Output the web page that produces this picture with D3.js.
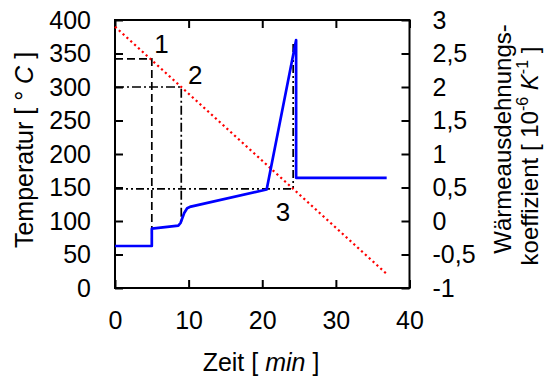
<!DOCTYPE html>
<html>
<head>
<meta charset="utf-8">
<script src="https://cdn.jsdelivr.net/npm/d3@7"></script>
<style>
  html, body { margin: 0; padding: 0; background: #fff; }
  svg { display: block; font-family: "Liberation Sans", Arial, sans-serif; }
</style>
</head>
<body>
<div id="chart"></div>
<script>
// axis ticks
const timeTicks = [0, 10, 20, 30, 40];
const tempTicks = [0, 50, 100, 150, 200, 250, 300, 350, 400];
const coefTicks = [-1, -0.5, 0, 0.5, 1, 1.5, 2, 2.5, 3];

// red dotted cooling line (temperature)
const coolTime = [0, 37];
const coolTemp = [390, 20];

// blue line: expansion coefficient
const coefTime = [0, 5, 5, 8.6, 8.9, 9.1, 9.4, 9.8, 10.3, 20.6, 24.6, 24.6, 36.9];
const coefValue = [-0.373, -0.373, -0.115, -0.07, -0.03, 0.03, 0.12, 0.19, 0.215, 0.47, 2.70, 0.645, 0.645];

// black guide lines (time / temperature)
const guide1Time = [0, 5, 5];
const guide1Temp = [342, 342, 63];
const guide2Time = [0, 9, 9];
const guide2Temp = [300, 300, 95];
const guide3Time = [0, 24.2, 24.2];
const guide3Temp = [148, 148, 366];

const markLabels = ['1', '2', '3'];
const markTime = [6.3, 10.9, 22.8];
const markTemp = [365, 318, 114];

const width = 555, height = 376;
const margin = { top: 20, right: 145.5, bottom: 88, left: 115 };

const svg = d3.select('#chart').append('svg')
  .attr('width', width)
  .attr('height', height);

let x = d3.scaleLinear().domain([0, 40]).range([margin.left, width - margin.right]);
let yT = d3.scaleLinear().domain([0, 400]).range([height - margin.bottom, margin.top]);
let yC = d3.scaleLinear().domain([-1, 3]).range([height - margin.bottom, margin.top]);

const fontSize = 25;
const comma = d => String(d).replace('.', ',');

function styleAxis(g) {
  g.select('.domain').remove();
  g.selectAll('.tick line').attr('stroke', '#000').attr('stroke-width', 2);
  g.selectAll('.tick text').attr('fill', '#000').attr('font-size', fontSize)
    .attr('font-family', '"Liberation Sans", Arial, sans-serif');
}

svg.append('g')
  .attr('transform', `translate(0,${yT(0)})`)
  .call(d3.axisBottom(x).tickValues(timeTicks).tickSizeInner(-8).tickSizeOuter(0).tickPadding(23))
  .call(styleAxis);

svg.append('g')
  .attr('transform', `translate(0,${yT(400)})`)
  .call(d3.axisTop(x).tickValues(timeTicks).tickSizeInner(-8).tickSizeOuter(0).tickFormat(''))
  .call(styleAxis);

svg.append('g')
  .attr('transform', `translate(${x(0)},0)`)
  .call(d3.axisLeft(yT).tickValues(tempTicks).tickSizeInner(-8).tickSizeOuter(0).tickPadding(24))
  .call(styleAxis);

svg.append('g')
  .attr('transform', `translate(${x(40)},0)`)
  .call(d3.axisRight(yC).tickValues(coefTicks).tickSizeInner(-8).tickSizeOuter(0).tickPadding(23).tickFormat(comma))
  .call(styleAxis);

// frame
svg.append('rect')
  .attr('x', x(0)).attr('y', yT(400))
  .attr('width', x(40) - x(0)).attr('height', yT(0) - yT(400))
  .attr('fill', 'none').attr('stroke', '#000').attr('stroke-width', 2);

let tempLine = d3.line().x(d => x(d[0])).y(d => yT(d[1]));
let coefLine = d3.line().x(d => x(d[0])).y(d => yC(d[1]));

// guides
const guides = [
  { time: guide1Time, temp: guide1Temp, dash: '8,4' },
  { time: guide2Time, temp: guide2Temp, dash: '9,3,2,3' },
  { time: guide3Time, temp: guide3Temp, dash: '8,3,2,3,2,3' }
];
guides.forEach(gd => {
  svg.append('path')
    .attr('fill', 'none')
    .attr('stroke', '#000')
    .attr('stroke-width', 1.7)
    .attr('stroke-dasharray', gd.dash)
    .attr('d', tempLine(gd.time.map((t, i) => [t, gd.temp[i]])));
});

// red dotted
svg.append('path')
  .attr('fill', 'none')
  .attr('stroke', '#ff0000')
  .attr('stroke-width', 2.2)
  .attr('stroke-dasharray', '2.2,3')
  .attr('d', tempLine(coolTime.map((t, i) => [t, coolTemp[i]])));

// blue
svg.append('path')
  .attr('fill', 'none')
  .attr('stroke', '#0000ff')
  .attr('stroke-width', 2.7)
  .attr('stroke-linejoin', 'round')
  .attr('d', coefLine(coefTime.map((t, i) => [t, coefValue[i]])));

// point labels
svg.append('g').selectAll('text')
  .data(markLabels)
  .join('text')
  .attr('x', (d, i) => x(markTime[i]))
  .attr('y', (d, i) => yT(markTemp[i]))
  .attr('dy', '0.36em')
  .attr('text-anchor', 'middle')
  .attr('font-size', 26)
  .text(d => d);

// x title
const xt = svg.append('text')
  .attr('x', 261).attr('y', 371)
  .attr('text-anchor', 'middle')
  .attr('font-size', fontSize);
xt.append('tspan').text('Zeit [ ');
xt.append('tspan').attr('font-style', 'italic').text('min');
xt.append('tspan').text(' ]');

// left title
const lt = svg.append('text')
  .attr('transform', 'translate(33,150) rotate(-90)')
  .attr('text-anchor', 'middle')
  .attr('font-size', fontSize);
lt.append('tspan').text('Temperatur [ ° ');
lt.append('tspan').attr('font-style', 'italic').text('C');
lt.append('tspan').text(' ]');

// right title
svg.append('text')
  .attr('transform', 'translate(511,139) rotate(-90)')
  .attr('text-anchor', 'middle')
  .attr('font-size', 24)
  .text('Wärmeausdehnungs-');

const rt = svg.append('text')
  .attr('transform', 'translate(538,156) rotate(-90)')
  .attr('text-anchor', 'middle')
  .attr('font-size', 24);
rt.append('tspan').text('koeffizient [ 10');
rt.append('tspan').attr('font-size', 16).attr('dy', -10).text('-6');
rt.append('tspan').attr('dy', 10).text(' ');
rt.append('tspan').attr('font-style', 'italic').text('K');
rt.append('tspan').attr('font-size', 16).attr('dy', -10).text('-1');
rt.append('tspan').attr('dy', 10).text(' ]');
</script>
</body>
</html>
